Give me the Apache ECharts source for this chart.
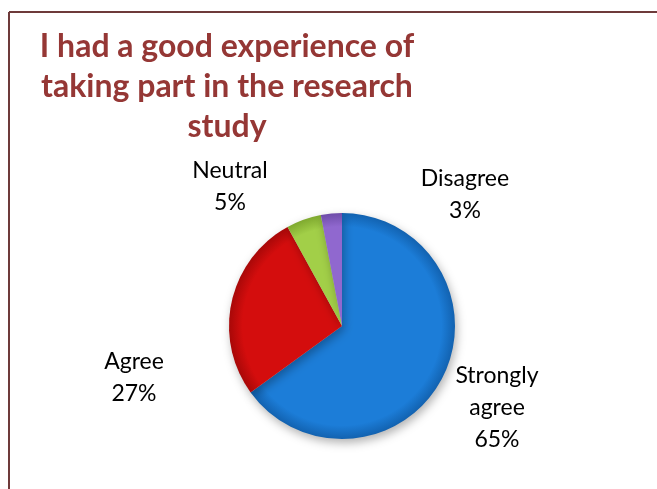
<!DOCTYPE html>
<html>
<head>
<meta charset="utf-8">
<script src="https://cdn.jsdelivr.net/npm/echarts@6/dist/echarts.min.js"></script>
<style>
  html, body { margin: 0; padding: 0; background: #ffffff; }
  #chart { width: 657px; height: 489px; }
</style>
</head>
<body>
<div id="chart"></div>
<script>
// Survey responses, share of participants (%)
const categories = ['Strongly agree', 'Agree', 'Neutral', 'Disagree'];
const shares = [65, 27, 5, 3];
const titleLines = ['I had a good experience of', 'taking part in the research', 'study'];

// Slice colours: [main, rim]
const sliceColors = [
  ['#1c7dd8', '#1262b0'],
  ['#d40d0d', '#a80808'],
  ['#a2cf48', '#7fa92f'],
  ['#9068cf', '#6e4ca8']
];

// Label anchor points (centre of each text block)
const labelAnchors = [
  [497, 408],
  [134, 378],
  [230, 187],
  [465, 195]
];

const cx = 342, cy = 326, R = 113;

const chart = echarts.init(document.getElementById('chart'), null, { renderer: 'canvas' });

const data = categories.map((name, i) => ({
  name: name,
  value: shares[i],
  itemStyle: {
    color: {
      type: 'radial', x: cx, y: cy, r: R, global: true,
      colorStops: [
        { offset: 0, color: sliceColors[i][0] },
        { offset: 0.88, color: sliceColors[i][0] },
        { offset: 1, color: sliceColors[i][1] }
      ]
    }
  }
}));

chart.setOption({
  backgroundColor: '#ffffff',
  animation: false,
  title: {
    text: titleLines.join('\n'),
    left: 222,
    top: 22,
    textAlign: 'center',
    textStyle: {
      fontFamily: 'Lato',
      fontWeight: 'bold',
      fontSize: 32,
      lineHeight: 40,
      color: '#953735',
      align: 'center'
    }
  },
  graphic: [
    { type: 'line', shape: { x1: 9, y1: 12, x2: 657, y2: 12 }, style: { stroke: '#6e3a3a', lineWidth: 2 } },
    { type: 'line', shape: { x1: 9, y1: 12, x2: 9, y2: 489 }, style: { stroke: '#6e3a3a', lineWidth: 2 } }
  ],
  series: [{
    type: 'pie',
    center: [cx, cy],
    radius: R,
    startAngle: 90,
    clockwise: true,
    data: data,
    itemStyle: {
      borderWidth: 0,
      shadowBlur: 10,
      shadowOffsetX: 2,
      shadowOffsetY: 4,
      shadowColor: 'rgba(0,0,0,0.3)'
    },
    label: {
      show: true,
      position: 'outside',
      fontFamily: 'Lato',
      fontSize: 23,
      lineHeight: 32,
      color: '#000000',
      align: 'center',
      verticalAlign: 'middle',
      formatter: p => p.name.replace('Strongly ', 'Strongly\n') + '\n' + p.value + '%'
    },
    labelLine: { show: false },
    labelLayout: p => ({
      x: labelAnchors[p.dataIndex][0],
      y: labelAnchors[p.dataIndex][1],
      align: 'center',
      verticalAlign: 'middle'
    }),
    emphasis: { disabled: true }
  }]
});
</script>
</body>
</html>
